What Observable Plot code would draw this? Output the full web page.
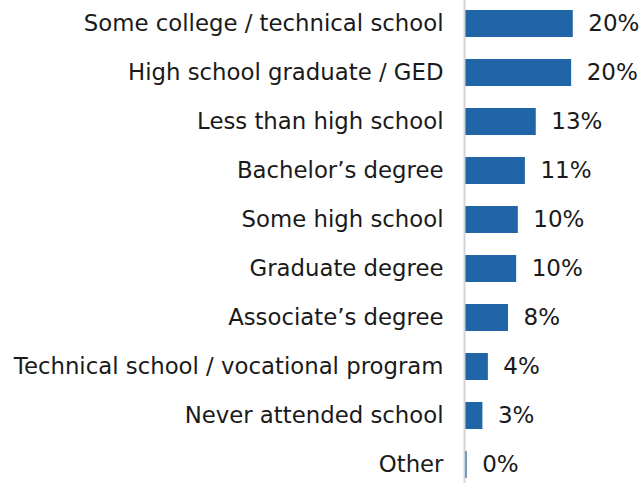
<!DOCTYPE html>
<html>
<head>
<meta charset="utf-8">
<script src="https://cdn.jsdelivr.net/npm/d3@7"></script>
<script src="https://cdn.jsdelivr.net/npm/@observablehq/plot@0.6"></script>
<style>
  html, body { margin: 0; padding: 0; background: #fff; }
  #chart svg { display: block; }
</style>
</head>
<body>
<div id="chart"></div>
<script>
const categories = [
  "Some college / technical school",
  "High school graduate / GED",
  "Less than high school",
  "Bachelor\u2019s degree",
  "Some high school",
  "Graduate degree",
  "Associate\u2019s degree",
  "Technical school / vocational program",
  "Never attended school",
  "Other"
];
const values = [19.8, 19.5, 13.0, 11.0, 9.7, 9.4, 7.9, 4.2, 3.2, 0.3];
const labels = ["20%", "20%", "13%", "11%", "10%", "10%", "8%", "4%", "3%", "0%"];

const data = categories.map((c, i) => ({ category: c, value: values[i], label: labels[i] }));

const chart = Plot.plot({
  width: 643,
  height: 483,
  marginLeft: 465,
  marginRight: 0,
  marginTop: 4,
  marginBottom: 0,
  style: { fontFamily: "DejaVu Sans, Verdana, sans-serif", fontSize: "22.8px", color: "#1a1a1a", background: "#fff" },
  x: { domain: [0, 32.7], axis: null },
  y: { domain: categories, padding: 0.45, paddingOuter: 0.07, label: null, tickSize: 0, tickPadding: 22, fontSize: 22.8 },
  marks: [
    Plot.barX(data, { y: "category", x: "value", fill: "#1f65a7" }),
    Plot.ruleX([0], { stroke: "#d4d4d4", strokeWidth: 2, dx: -1, insetTop: -4 }),
    Plot.text(data, { y: "category", x: "value", text: "label", dx: 15, textAnchor: "start", fill: "#1a1a1a", fontSize: 23 })
  ]
});
document.getElementById("chart").appendChild(chart);
</script>
</body>
</html>
